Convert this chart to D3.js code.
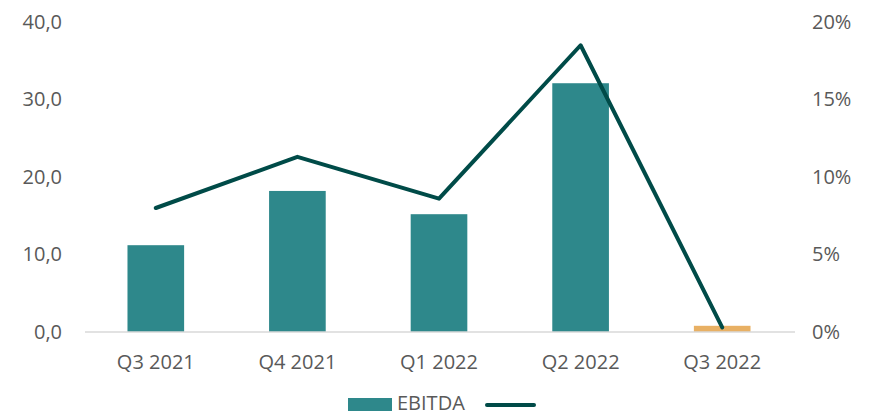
<!DOCTYPE html>
<html>
<head>
<meta charset="utf-8">
<script src="https://cdn.jsdelivr.net/npm/d3@7"></script>
<style>
  body { margin: 0; background: #fff; }
  text { font-family: 'Open Sans', sans-serif; fill: #595959; }
</style>
</head>
<body>
<svg id="chart" width="870" height="414"></svg>
<script>
// data
var quarters = ["Q3 2021", "Q4 2021", "Q1 2022", "Q2 2022", "Q3 2022"];
var ebitda = [11.2, 18.2, 15.2, 32.1, 0.8];
var margin = [8.0, 11.3, 8.6, 18.5, 0.3];   // percent, right axis
var leftTicks = [0, 10, 20, 30, 40];
var rightTicks = [0, 5, 10, 15, 20];

var barColor = "#2e888b";
var lastBarColor = "#e8b064";
var lineColor = "#004b48";
var fs = "20px";

var svg = d3.select("#chart");
var m = {top: 22, right: 77, bottom: 82, left: 85};
var W = 870, H = 414;

var x = d3.scaleBand()
  .domain(quarters)
  .range([m.left, W - m.right])
  .paddingInner(0.6)
  .paddingOuter(0.3);

var yL = d3.scaleLinear().domain([0, 40]).range([H - m.bottom, m.top]);
var yR = d3.scaleLinear().domain([0, 20]).range([H - m.bottom, m.top]);

// left axis labels
var fmt = d3.format(".1f");
svg.append("g")
  .attr("transform", `translate(62,0)`)
  .call(d3.axisLeft(yL).tickValues(leftTicks).tickSize(0).tickPadding(0)
    .tickFormat(d => fmt(d).replace(".", ",")))
  .call(g => g.select(".domain").remove())
  .selectAll("text").style("font-size", fs).attr("fill", "#595959");

// right axis labels
svg.append("g")
  .attr("transform", `translate(812,0)`)
  .call(d3.axisRight(yR).tickValues(rightTicks).tickSize(0).tickPadding(0)
    .tickFormat(d => d + "%"))
  .call(g => g.select(".domain").remove())
  .selectAll("text").style("font-size", fs).attr("fill", "#595959");

// bars
svg.append("g").selectAll("rect")
  .data(ebitda)
  .enter()
  .append("rect")
  .attr("x", (d, i) => x(quarters[i]))
  .attr("y", d => yL(d))
  .attr("width", x.bandwidth())
  .attr("height", d => yL(0) - yL(d))
  .attr("fill", (d, i) => i === quarters.length - 1 ? lastBarColor : barColor);

// baseline
svg.append("line")
  .attr("x1", m.left).attr("x2", W - m.right + 2)
  .attr("y1", yL(0)).attr("y2", yL(0))
  .attr("stroke", "#d9d9d9").attr("stroke-width", 1.5);

// x axis labels
svg.append("g")
  .attr("transform", `translate(0,355)`)
  .call(d3.axisBottom(x).tickSize(0).tickPadding(0))
  .call(g => g.select(".domain").remove())
  .selectAll("text").style("font-size", fs).attr("fill", "#595959");

// margin line
var line = d3.line()
  .x((d, i) => x(quarters[i]) + x.bandwidth() / 2)
  .y(d => yR(d));

svg.append("path")
  .datum(margin)
  .attr("d", line)
  .attr("fill", "none")
  .attr("stroke", lineColor)
  .attr("stroke-width", 4)
  .attr("stroke-linecap", "round")
  .attr("stroke-linejoin", "round");

// legend
var leg = svg.append("g").attr("transform", "translate(348,398)");
leg.append("rect").attr("width", 44).attr("height", 13).attr("fill", barColor);
leg.append("text").attr("x", 49).attr("y", 12).style("font-size", fs).text("EBITDA");
leg.append("line")
  .attr("x1", 139).attr("x2", 186).attr("y1", 7).attr("y2", 7)
  .attr("stroke", lineColor).attr("stroke-width", 4).attr("stroke-linecap", "round");
</script>
</body>
</html>
